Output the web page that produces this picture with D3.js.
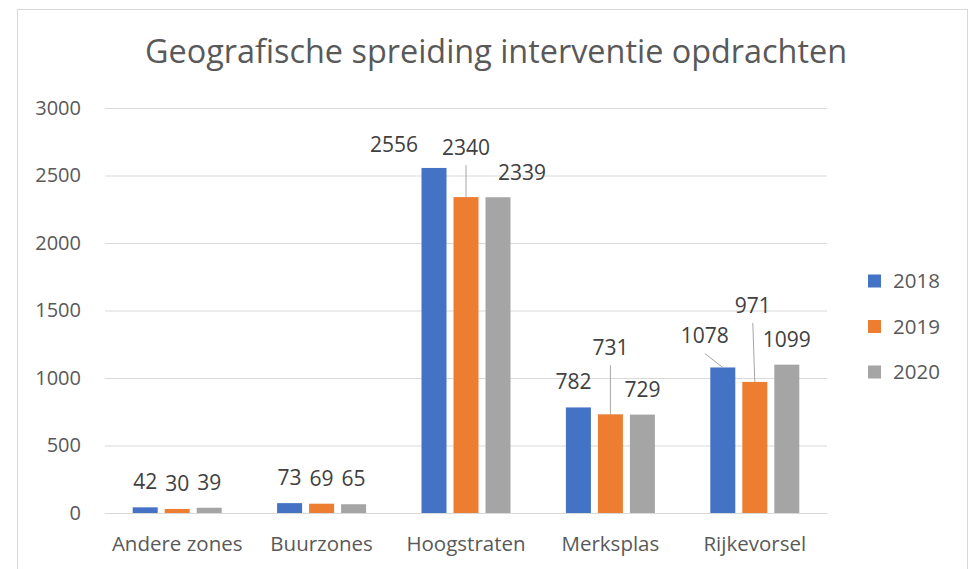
<!DOCTYPE html>
<html>
<head>
<meta charset="utf-8">
<script src="https://cdn.jsdelivr.net/npm/d3@7"></script>
<style>
  html, body { margin: 0; padding: 0; background: #fff; }
  svg { display: block; }
  text { font-family: "Open Sans", "Noto Sans", sans-serif; }
</style>
</head>
<body>
<svg id="chart" width="973" height="569"></svg>
<script>
// ---- data ----
const title = "Geografische spreiding interventie opdrachten";
const categories = ["Andere zones", "Buurzones", "Hoogstraten", "Merksplas", "Rijkevorsel"];
const seriesNames = ["2018", "2019", "2020"];
const values2018 = [42, 73, 2556, 782, 1078];
const values2019 = [30, 69, 2340, 731, 971];
const values2020 = [39, 65, 2339, 729, 1099];
const yTicks = [0, 500, 1000, 1500, 2000, 2500, 3000];

// ---- layout / style (not data) ----
const colors = ["#4472C4", "#ED7D31", "#A5A5A5"];
const plot = { left: 105, right: 827, top: 108, bottom: 513 };
const barW = 25, barStep = 32;
// manual data-label displacements (px) as placed in the original: [series, category, dx, dy, leader]
const labelMoves = [
  [0, 2, -40, 2, false],
  [1, 2, 0, -24, true],
  [2, 2, 24, 1, false],
  [0, 3, -5, 0, false],
  [1, 3, 0, -41, true],
  [0, 4, -18, -6, true],
  [1, 4, -2, -51, true]
];

const svg = d3.select("#chart");
const seriesValues = [values2018, values2019, values2020];

// chart border
svg.append("rect")
  .attr("x", 17.5).attr("y", 9.5).attr("width", 950).attr("height", 600)
  .attr("fill", "#fff").attr("stroke", "#D9D9D9").attr("stroke-width", 1);

// title
svg.append("text")
  .attr("x", 496).attr("y", 63)
  .attr("text-anchor", "middle")
  .attr("fill", "#595959")
  .attr("font-size", 32.4)
  .text(title);

const y = d3.scaleLinear().domain([0, 3000]).range([plot.bottom, plot.top]);
const x = d3.scaleBand().domain(categories).range([plot.left, plot.right]).padding(0);
const xs = d3.scaleBand().domain(seriesNames)
  .range([-(barStep * 2 + barW) / 2, (barStep * 2 + barW) / 2])
  .paddingInner((barStep - barW) / barStep).paddingOuter(0);

// gridlines + y axis labels
const yAxis = d3.axisLeft(y).tickValues(yTicks).tickFormat(d3.format("d"))
  .tickSize(-(plot.right - plot.left)).tickPadding(24);
const gy = svg.append("g").attr("transform", `translate(${plot.left},0)`).call(yAxis);
gy.select(".domain").remove();
gy.selectAll(".tick line").attr("stroke", "#D9D9D9").attr("stroke-width", 1);
gy.selectAll(".tick text")
  .attr("fill", "#595959")
  .attr("font-size", 20)
  .attr("font-family", "'Open Sans', sans-serif");

// x axis labels
const xAxis = d3.axisBottom(x).tickSize(0).tickPadding(0);
const gx = svg.append("g").attr("transform", `translate(0,${plot.bottom})`).call(xAxis);
gx.select(".domain").attr("stroke", "#D9D9D9");
gx.selectAll(".tick text")
  .attr("fill", "#595959")
  .attr("font-size", 20.5)
  .attr("font-family", "'Open Sans', sans-serif")
  .attr("dy", 0)
  .attr("y", 38);

// bars
const groups = svg.append("g");
seriesNames.forEach((s, si) => {
  groups.selectAll(".bar-" + si)
    .data(categories.map((c, ci) => ({ c, v: seriesValues[si][ci] })))
    .join("rect")
    .attr("x", d => x(d.c) + x.bandwidth() / 2 + xs(s))
    .attr("width", xs.bandwidth())
    .attr("y", d => y(d.v))
    .attr("height", d => y(0) - y(d.v))
    .attr("fill", colors[si]);
});

// data labels
const labels = svg.append("g");
seriesNames.forEach((s, si) => {
  categories.forEach((c, ci) => {
    const v = seriesValues[si][ci];
    const bx = x(c) + x.bandwidth() / 2 + xs(s) + xs.bandwidth() / 2;
    const by = y(v);
    const mv = labelMoves.find(m => m[0] === si && m[1] === ci);
    const dx = mv ? mv[2] : 0, dy = mv ? mv[3] : 0;
    const lx = bx + dx, ly = by - 18 + dy;
    if (mv && mv[4]) {
      labels.append("line")
        .attr("x1", lx).attr("y1", ly + 10)
        .attr("x2", bx).attr("y2", by)
        .attr("stroke", "#A6A6A6").attr("stroke-width", 1);
    }
    labels.append("text")
      .attr("x", lx).attr("y", ly)
      .attr("text-anchor", "middle")
      .attr("fill", "#404040")
      .attr("font-size", 21)
      .text(v);
  });
});

// legend
const legend = svg.append("g");
seriesNames.forEach((s, si) => {
  const cy = 281 + si * 45.5;
  legend.append("rect")
    .attr("x", 868).attr("y", cy - 6.5).attr("width", 13).attr("height", 13)
    .attr("fill", colors[si]);
  legend.append("text")
    .attr("x", 893).attr("y", cy + 7)
    .attr("fill", "#595959")
    .attr("font-size", 20.5)
    .text(s);
});
</script>
</body>
</html>
